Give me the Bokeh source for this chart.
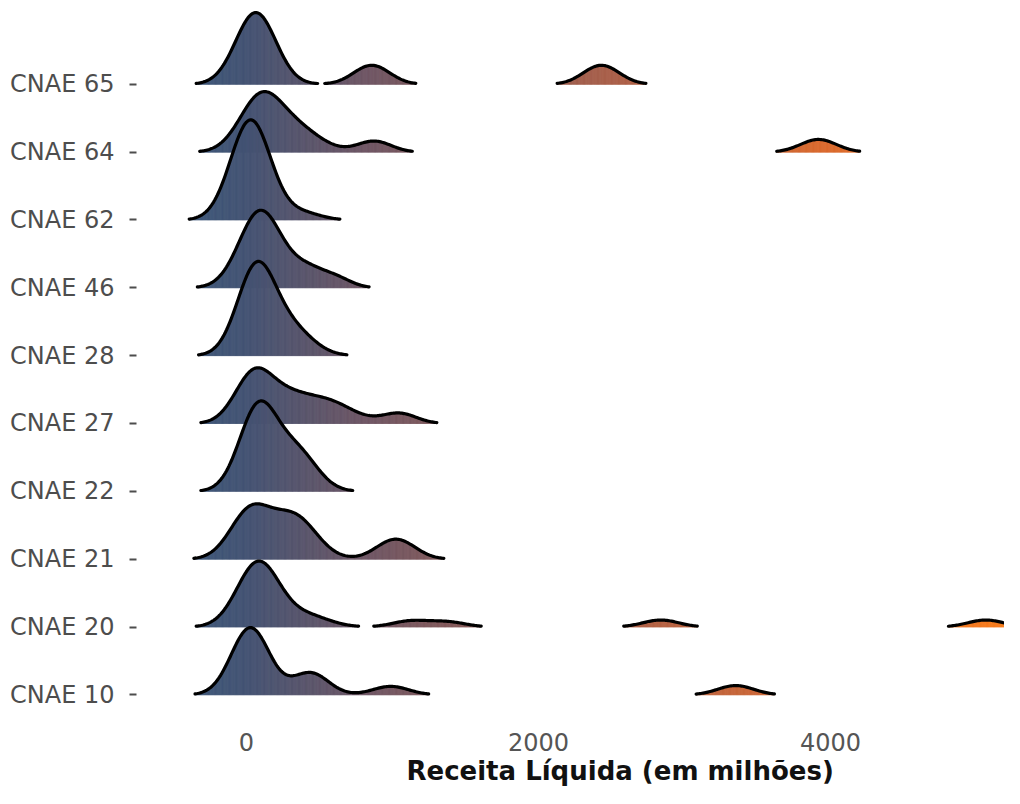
import numpy as np
from bokeh.plotting import figure
from bokeh.models import Range1d, FixedTicker, Title, ColumnDataSource
from bokeh.transform import linear_cmap
from bokeh.embed import file_html
from bokeh.resources import INLINE

# ---------------- data ----------------
categories = ["CNAE 10", "CNAE 20", "CNAE 21", "CNAE 22", "CNAE 27",
              "CNAE 28", "CNAE 46", "CNAE 62", "CNAE 64", "CNAE 65"]

# density components of each ridge: centre (R$ millions), height (ridge units), spread (R$ millions)
comp_center = [
    [27, 438, 988, 3351],                 # CNAE 10
    [82, 418, 1123, 1377, 2838, 5064],    # CNAE 20
    [27, 329, 1023],                      # CNAE 21
    [82, 349],                            # CNAE 22
    [55, 281, 521, 1048],                 # CNAE 27
    [68, 315],                            # CNAE 28
    [96, 418, 623],                       # CNAE 46
    [29, 384],                            # CNAE 62
    [96, 349, 875, 3918],                 # CNAE 64
    [64, 858, 2431],                      # CNAE 65
]
comp_height = [
    [0.990, 0.324, 0.125, 0.137],
    [0.958, 0.162, 0.088, 0.074, 0.103, 0.103],
    [0.708, 0.619, 0.295],
    [1.238, 0.560],
    [0.752, 0.221, 0.354, 0.147],
    [1.297, 0.369],
    [1.135, 0.265, 0.118],
    [1.474, 0.103],
    [0.781, 0.324, 0.162, 0.187],
    [1.057, 0.280, 0.280],
]
comp_spread = [
    [130, 123, 123, 123],
    [144, 151, 123, 123, 123, 123],
    [137, 151, 130],
    [130, 137],
    [130, 123, 192, 116],
    [130, 144],
    [144, 123, 103],
    [137, 123],
    [144, 164, 116, 123],
    [137, 123, 123],
]
x_ticks = [0, 2000, 4000]
x_tick_labels = ["0", "2000", "4000"]
x_title = "Receita Líquida (em milhões)"

# ---------------- style ----------------
grad_stops = [-400, 0, 800, 2400, 3900, 5200]
grad_colors = ["#3c5779", "#445373", "#6e5664", "#a65f4b", "#d8692f", "#f87c1c"]
rel_min_height = 0.008
FONT = "DejaVu Sans"


def hex_to_rgb(h):
    h = h.lstrip("#")
    return [int(h[k:k + 2], 16) for k in (0, 2, 4)]


rgb = np.array([hex_to_rgb(c) for c in grad_colors], dtype=float)
grid_vals = np.linspace(grad_stops[0], grad_stops[-1], 256)
palette = []
for v in grid_vals:
    r, g, b = (int(round(np.interp(v, grad_stops, rgb[:, k]))) for k in range(3))
    palette.append("#%02x%02x%02x" % (r, g, b))

p = figure(width=1004, height=788,
           x_range=Range1d(-753, 5192), y_range=Range1d(-0.481, 10.235),
           output_backend="svg", toolbar_location=None,
           min_border_left=136, min_border_right=0, min_border_top=0,
           min_border_bottom=61)
p.outline_line_color = None
p.grid.visible = False
p.background_fill_color = "white"

xs = np.arange(-760.0, 5200.0, 8.0)
max_h = max(max(h) for h in comp_height)
thr = rel_min_height * max_h

for i in reversed(range(len(categories))):
    dens = np.zeros_like(xs)
    for c, h, s in zip(comp_center[i], comp_height[i], comp_spread[i]):
        dens += h * np.exp(-0.5 * ((xs - c) / s) ** 2)
    idx = np.flatnonzero(dens >= thr)
    runs = np.split(idx, np.flatnonzero(np.diff(idx) > 1) + 1)
    left, right, top, xm = [], [], [], []
    segs = []
    for run in runs:
        if len(run) < 2:
            continue
        x = xs[run]
        y = dens[run]
        left += list(x[:-1])
        right += list(x[1:])
        top += list(i + (y[:-1] + y[1:]) / 2)
        xm += list((x[:-1] + x[1:]) / 2)
        segs.append((x, i + y))
    src = ColumnDataSource(dict(left=left, right=right, top=top,
                                bottom=[i] * len(left), xm=xm))
    cmap = linear_cmap("xm", palette, grad_stops[0], grad_stops[-1])
    p.quad(left="left", right="right", top="top", bottom="bottom", source=src,
           fill_color=cmap, line_color=cmap, line_width=0.8)
    for x, y in segs:
        p.line(x, y, line_color="black", line_width=3.2,
               line_join="round", line_cap="round")

# x axis
xa = p.xaxis[0]
xa.ticker = FixedTicker(ticks=x_ticks)
xa.major_label_overrides = {t: l for t, l in zip(x_ticks, x_tick_labels)}
xa.axis_line_color = None
xa.major_tick_line_color = None
xa.minor_tick_line_color = None
xa.major_tick_out = 0
xa.major_tick_in = 0
xa.major_label_standoff = 5
xa.major_label_text_font = FONT
xa.major_label_text_font_size = "24px"
xa.major_label_text_color = "#555555"

# y axis
ya = p.yaxis[0]
ya.ticker = FixedTicker(ticks=list(range(len(categories))))
ya.major_label_overrides = {k: c for k, c in enumerate(categories)}
ya.axis_line_color = None
ya.minor_tick_line_color = None
ya.major_tick_out = 7
ya.major_tick_in = 0
ya.major_tick_line_width = 2
ya.major_tick_line_color = "#4d4d4d"
ya.major_label_standoff = 15
ya.major_label_text_font = FONT
ya.major_label_text_font_size = "24px"
ya.major_label_text_color = "#4d4d4d"

p.add_layout(Title(text=x_title, align="left", offset=270, standoff=0,
                   text_font=FONT, text_font_size="26px",
                   text_font_style="bold", text_color="#111111"), "below")

open("out.html", "w").write(file_html(p, INLINE))
